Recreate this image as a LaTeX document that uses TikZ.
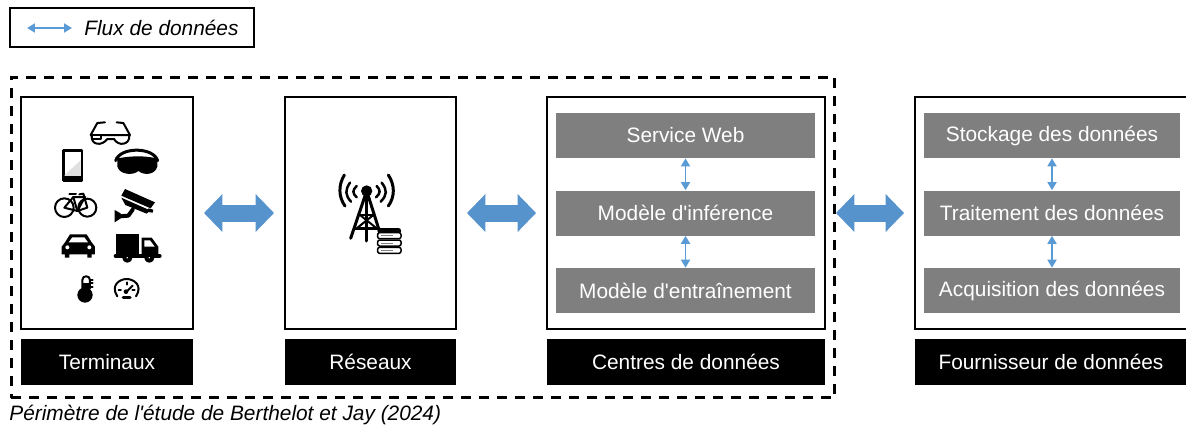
\documentclass[tikz,border=0pt]{standalone}
\usepackage{fontspec}
\setmainfont{Liberation Sans}
\usetikzlibrary{arrows.meta}
\definecolor{flowblue}{HTML}{5B9BD5}
\definecolor{bigblue}{HTML}{5692CC}
\definecolor{layergray}{HTML}{7F7F7F}
\tikzset{
	panel/.style={draw=black,line width=0.04cm,fill=white,inner sep=0,minimum height=4.64cm},
	caption/.style={fill=black,text=white,inner sep=0,minimum height=0.92cm,font=\fontsize{11.87}{14}\selectfont},
	layer/.style={fill=layergray,text=white,inner sep=0,minimum height=0.9cm,font=\fontsize{11.87}{14}\selectfont},
	bigflow/.style={draw=bigblue,line width=0.34cm,{Triangle[width=0.74cm,length=0.37cm]}-{Triangle[width=0.74cm,length=0.37cm]},shorten <=0.2cm,shorten >=0.2cm},
	smallflow/.style={draw=flowblue,line width=0.036cm,{Triangle[width=0.18cm,length=0.16cm]}-{Triangle[width=0.18cm,length=0.16cm]}},
	icon/.style={draw=black,line width=0.04cm,line join=round,line cap=round},
	iconfill/.style={icon,fill=black}
}
\begin{document}
\begin{tikzpicture}[x=0.02cm,y=-0.02cm]
	\useasboundingbox (0,0) rectangle (1186,430);
	\clip (0,0) rectangle (1186,430);

	\node[draw=black,line width=0.04cm,inner sep=0,minimum width=4.88cm,minimum height=0.78cm] (legend) at (132,27.5){};
	\coordinate (legendleft) at (27,28);
	\coordinate (legendright) at (72,28);
	\draw[smallflow] (legendleft) -- (legendright);
	\node[anchor=west,inner sep=0,font=\fontsize{11.87}{14}\selectfont\itshape] (legendtext) at (84,28){Flux de données};

	\node[draw=black,line width=0.06cm,dash pattern=on 0.2cm off 0.16cm,inner sep=0,minimum width=16.48cm,minimum height=6.42cm] (scope) at (423,237.5){};
	\node[anchor=west,inner sep=0,font=\fontsize{11.87}{14}\selectfont\itshape] (scopetext) at (9,415){Périmètre de l\textquotesingle étude de Berthelot et Jay (2024)};

	\node[panel,minimum width=3.44cm] (terminals) at (107,213){};
	\node[panel,minimum width=3.42cm] (network) at (370.5,213){};
	\node[panel,minimum width=5.56cm] (datacentre) at (686,213){};
	\node[panel,minimum width=5.44cm] (provider) at (1051,213){};

	\node[caption,minimum width=3.44cm] (terminalscap) at (107,362){Terminaux};
	\node[caption,minimum width=3.42cm] (networkcap) at (370.5,362){Réseaux};
	\node[caption,minimum width=5.56cm] (datacentrecap) at (686,362){Centres de données};
	\node[caption,minimum width=5.44cm] (providercap) at (1051,362){Fournisseur de données};

	\node[layer,minimum width=5.18cm] (service) at (685.5,135.5){Service Web};
	\node[layer,minimum width=5.18cm] (inference) at (685.5,213){Modèle d\textquotesingle inférence};
	\node[layer,minimum width=5.18cm] (training) at (685.5,290.5){Modèle d\textquotesingle entraînement};

	\node[layer,minimum width=5.12cm] (storage) at (1052,135.5){Stockage des données};
	\node[layer,minimum width=5.12cm] (processing) at (1052,213){Traitement des données};
	\node[layer,minimum width=5.12cm] (acquisition) at (1052,290.5){Acquisition des données};

	\draw[smallflow] (service) -- (inference);
	\draw[smallflow] (inference) -- (training);
	\draw[smallflow] (storage) -- (processing);
	\draw[smallflow] (processing) -- (acquisition);

	\draw[bigflow] (terminals) -- (network);
	\draw[bigflow] (network) -- (datacentre);
	\draw[bigflow] (datacentre) -- (provider);

	\begin{scope}[shift={(20,95)},x=0.00667cm,y=-0.00667cm]
		% glasses
		\draw[icon] (255,82) -- (232,84) -- (212,120) -- (330,120) -- (310,84) -- (290,82);
		\draw[icon] (215,122) .. controls (212,150) and (245,155) .. (262,132) -- (282,132) .. controls (295,155) and (330,150) .. (328,122);
		\draw[icon,fill=white] (216,120) rectangle (244,132);
		% tablet
		\draw[icon,fill=white,line width=0.05cm] (130,167) rectangle (186,256);
		\fill[black!12] (134,240) -- (182,196) -- (182,244) -- (134,244) -- cycle;
		\fill[black] (130,244) rectangle (186,256);
		% headset
		\draw[icon,line width=0.06cm] (287,197) .. controls (300,155) and (400,155) .. (413,197);
		\fill[black] (292,190) .. controls (340,182) and (370,182) .. (412,190) -- (412,215) .. controls (405,240) and (372,242) .. (355,228) .. controls (340,242) and (300,240) .. (292,215) -- cycle;
		% bicycle
		\draw[icon] (133,338) circle (28);
		\draw[icon] (202,338) circle (27);
		\draw[icon] (133,338) -- (160,306) -- (195,306) -- (172,348) -- cycle;
		\draw[icon] (160,306) -- (172,348) -- (202,338) -- (190,296) -- (178,298);
		\draw[icon] (148,296) -- (168,296);
		% camera
		\fill[black] (315,282) -- (405,322) -- (392,340) -- (304,302) -- cycle;
		\fill[black] (304,308) -- (390,346) -- (380,356) -- (316,330) -- cycle;
		\fill[black] (385,340) -- (400,344) -- (398,353) -- (383,351) -- cycle;
		\fill[black] (284,345) -- (302,355) -- (302,370) -- (284,382) -- cycle;
		\draw[icon,line width=0.08cm] (300,364) -- (325,362) -- (338,344);
		% car
		\fill[black] (125,455) -- (135,442) -- (150,418) -- (200,418) -- (215,442) -- (225,455) -- (225,478) -- (215,478) -- (215,488) -- (202,488) -- (202,478) -- (148,478) -- (148,488) -- (135,488) -- (135,478) -- (125,478) -- cycle;
		\fill[white] (146,442) -- (157,427) -- (193,427) -- (204,442) -- cycle;
		\fill[white] (142,457) circle (6);
		\fill[white] (208,457) circle (6);
		% truck
		\fill[black] (288,417) rectangle (358,476);
		\fill[black] (365,428) -- (395,428) -- (415,455) -- (415,480) -- (365,480) -- cycle;
		\fill[white] (373,436) -- (390,436) -- (404,455) -- (373,455) -- cycle;
		\draw[icon,line width=0.08cm] (287,483) -- (419,483);
		\draw[icon,fill=white,line width=0.08cm] (322,488) circle (9);
		\draw[icon,fill=white,line width=0.08cm] (388,488) circle (9);
		% thermometer
		\draw[icon] (187,580) -- (187,555) .. controls (187,540) and (210,540) .. (210,555) -- (210,580);
		\fill[black] (195,600) circle (23);
		\fill[black] (187,565) rectangle (206,590);
		\draw[icon] (210,555) -- (218,555);
		\draw[icon] (210,565) -- (218,565);
		\draw[icon] (210,575) -- (218,575);
		% gauge
		\draw[icon] (292,604) .. controls (270,570) and (300,552) .. (320,552) .. controls (340,552) and (370,570) .. (348,604);
		\draw[icon] (318,592) -- (338,572);
		\fill[black] (318,590) circle (7);
		\draw[icon,line width=0.07cm] (310,608) -- (330,608);
		\draw[icon] (296,585) -- (303,585);
		\draw[icon] (320,562) -- (320,569);
		\draw[icon] (344,585) -- (337,585);
	\end{scope}

	\begin{scope}[shift={(310,160)},x=0.00667cm,y=-0.00667cm]
		% arcs
		\draw[icon,line width=0.06cm] (103,45) .. controls (85,75) and (85,110) .. (105,138);
		\draw[icon,line width=0.05cm] (120,68) .. controls (105,90) and (105,105) .. (123,125);
		\draw[icon,line width=0.05cm] (140,78) .. controls (127,90) and (127,100) .. (140,112);
		\draw[icon,line width=0.06cm] (235,45) .. controls (255,75) and (255,110) .. (235,138);
		\draw[icon,line width=0.05cm] (215,68) .. controls (232,90) and (232,105) .. (212,125);
		\draw[icon,line width=0.05cm] (200,78) .. controls (212,90) and (212,100) .. (198,112);
		% tower
		\fill[black] (170,93) circle (17);
		\draw[icon,line width=0.06cm] (166,105) -- (122,235);
		\draw[icon,line width=0.06cm] (174,105) -- (212,225);
		\draw[icon,line width=0.06cm] (170,105) -- (170,243);
		\draw[icon,line width=0.05cm] (150,165) -- (190,165);
		\draw[icon,line width=0.05cm] (135,205) -- (205,205);
		\draw[icon] (150,165) -- (200,205);
		\draw[icon] (190,165) -- (140,205);
		% server
		\fill[black,rounded corners=0.05cm] (203,204) rectangle (273,222);
		\draw[icon,fill=white,rounded corners=0.04cm,line width=0.03cm] (203,218) rectangle (273,236);
		\draw[icon,fill=white,rounded corners=0.04cm,line width=0.03cm] (203,240) rectangle (273,258);
		\draw[icon,fill=white,rounded corners=0.04cm,line width=0.03cm] (203,262) rectangle (273,280);
		\draw[black!50,line width=0.02cm] (212,227) -- (250,227);
		\draw[black!50,line width=0.02cm] (212,249) -- (250,249);
		\draw[black!50,line width=0.02cm] (212,271) -- (250,271);
	\end{scope}
\end{tikzpicture}
\end{document}
